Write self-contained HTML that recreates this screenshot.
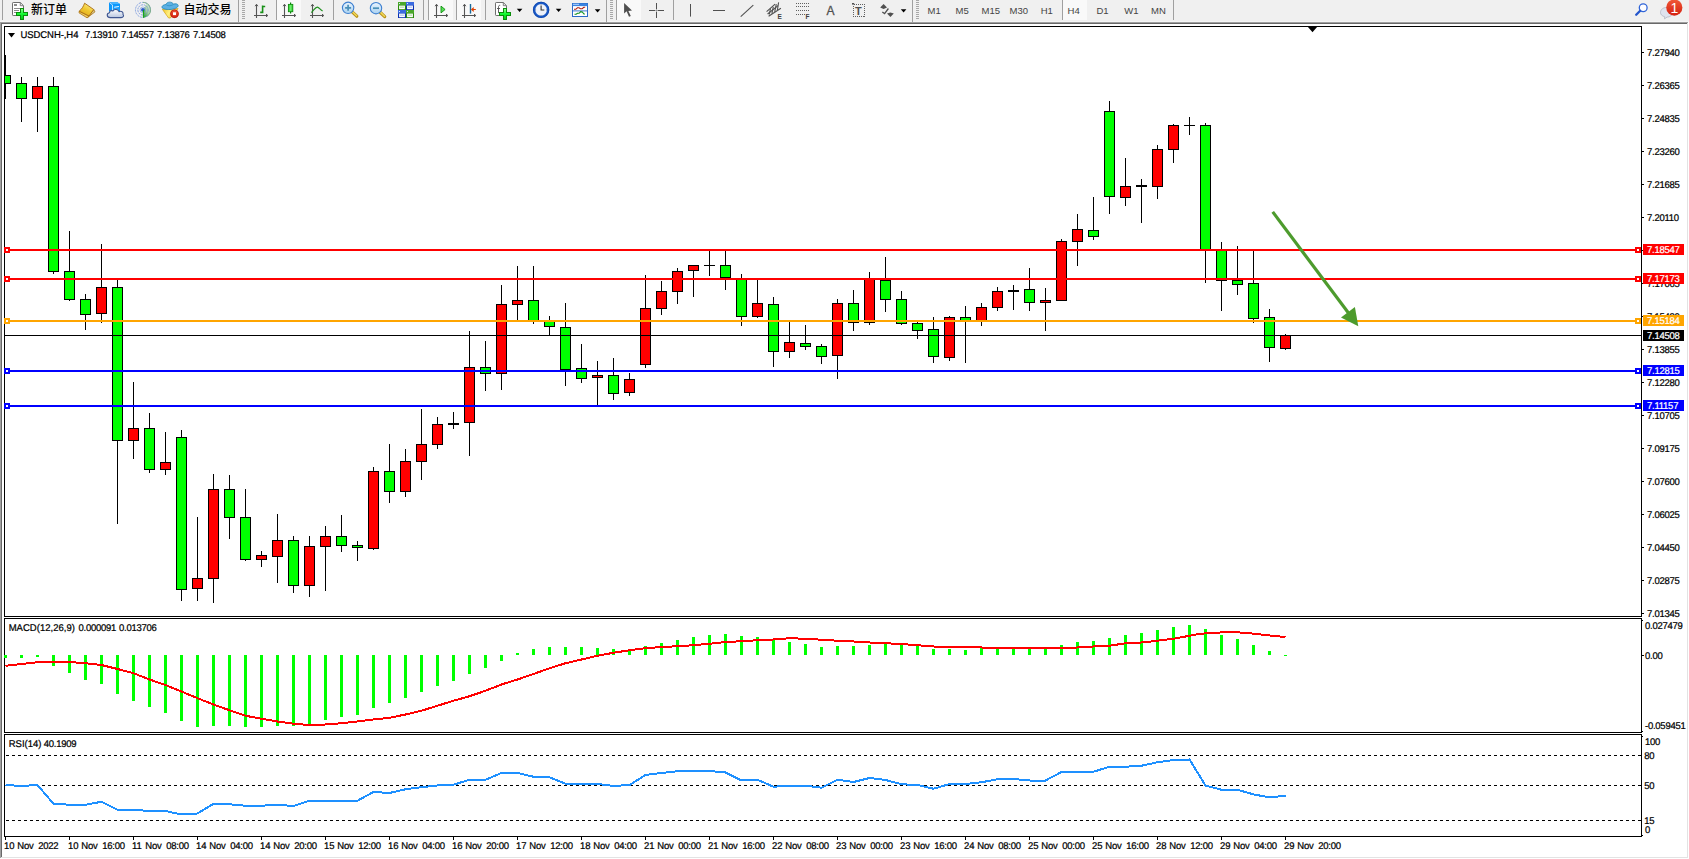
<!DOCTYPE html>
<html lang="zh-CN"><head><meta charset="utf-8"><title>USDCNH-,H4</title>
<style>
html,body{margin:0;padding:0;background:#fff;overflow:hidden}
body{width:1689px;height:859px;position:relative;font-family:"Liberation Sans","Noto Sans CJK SC",sans-serif}
#tb{position:absolute;left:0;top:0;width:1689px;height:22px;background:#f0f0f0}
#tbl1{position:absolute;left:0;top:22px;width:1688px;height:1px;background:#a0a0a0}
#tbl2{position:absolute;left:1px;top:23px;width:1687px;height:1px;background:#696969}
#le1{position:absolute;left:0;top:22px;width:1px;height:836px;background:#a0a0a0}
#le2{position:absolute;left:1px;top:23px;width:1px;height:834px;background:#696969}
#re{position:absolute;left:1687px;top:23px;width:1px;height:835px;background:#e3e3e3}
#be{position:absolute;left:1px;top:857px;width:1687px;height:1px;background:#e3e3e3}
.t{position:absolute;white-space:nowrap}
</style></head><body>
<div id="tb"></div><div style="position:absolute;left:0;top:21px;width:1689px;height:1px;background:#f5f5f5"></div><div id="tbl1"></div><div id="tbl2"></div><div id="le1"></div><div id="le2"></div><div id="re"></div><div id="be"></div>
<svg id="chart" width="1689" height="859" viewBox="0 0 1689 859" style="position:absolute;left:0;top:0">
<g shape-rendering="crispEdges">
<path d="M4 26H1642V617H4Z M5 27V616H1641V27Z" fill="#000" fill-rule="evenodd"/>
<path d="M4 618H1642V733H4Z M5 619V732H1641V619Z" fill="#000" fill-rule="evenodd"/>
<path d="M4 734H1642V837H4Z M5 735V836H1641V735Z" fill="#000" fill-rule="evenodd"/>
<clipPath id="cp"><rect x="5" y="27" width="1636" height="589"/></clipPath><g clip-path="url(#cp)">
<path d="M5 55h1v44h-1zM0 75h11v9h-11zM21 77h1v45h-1zM16 83h11v16h-11zM37 77h1v55h-1zM32 86h11v13h-11zM53 77h1v197h-1zM48 86h11v186h-11zM69 231h1v70h-1zM64 271h11v29h-11zM85 294h1v36h-1zM80 299h11v16h-11zM101 244h1v79h-1zM96 287h11v27h-11zM117 280h1v244h-1zM112 287h11v154h-11zM133 382h1v77h-1zM128 428h11v13h-11zM149 413h1v60h-1zM144 428h11v42h-11zM165 432h1v43h-1zM160 462h11v8h-11zM181 430h1v171h-1zM176 437h11v153h-11zM197 517h1v84h-1zM192 578h11v11h-11zM213 474h1v129h-1zM208 489h11v90h-11zM229 475h1v64h-1zM224 489h11v29h-11zM245 489h1v72h-1zM240 517h11v43h-11zM261 551h1v16h-1zM256 555h11v5h-11zM277 514h1v69h-1zM272 540h11v17h-11zM293 536h1v57h-1zM288 540h11v46h-11zM309 536h1v61h-1zM304 546h11v40h-11zM325 526h1v65h-1zM320 536h11v11h-11zM341 515h1v37h-1zM336 536h11v10h-11zM357 541h1v20h-1zM352 545h11v3h-11zM373 467h1v83h-1zM368 471h11v78h-11zM389 444h1v59h-1zM384 471h11v21h-11zM405 449h1v48h-1zM400 461h11v31h-11zM421 409h1v71h-1zM416 444h11v18h-11zM437 417h1v32h-1zM432 424h11v21h-11zM453 412h1v17h-1zM448 423h11v2h-11zM469 331h1v125h-1zM464 367h11v56h-11zM485 341h1v50h-1zM480 367h11v7h-11zM501 285h1v105h-1zM496 304h11v70h-11zM517 266h1v55h-1zM512 300h11v5h-11zM533 266h1v58h-1zM528 300h11v22h-11zM549 316h1v20h-1zM544 321h11v6h-11zM565 303h1v83h-1zM560 327h11v43h-11zM581 344h1v39h-1zM576 368h11v11h-11zM597 361h1v45h-1zM592 375h11v3h-11zM613 358h1v42h-1zM608 375h11v19h-11zM629 373h1v23h-1zM624 379h11v14h-11zM645 275h1v93h-1zM640 308h11v57h-11zM661 281h1v34h-1zM656 291h11v18h-11zM677 268h1v36h-1zM672 271h11v21h-11zM693 265h1v32h-1zM688 265h11v6h-11zM709 251h1v25h-1zM704 265h11v1h-11zM725 251h1v39h-1zM720 265h11v13h-11zM741 274h1v52h-1zM736 279h11v38h-11zM757 279h1v39h-1zM752 303h11v14h-11zM773 297h1v70h-1zM768 304h11v48h-11zM789 322h1v36h-1zM784 342h11v10h-11zM805 325h1v25h-1zM800 343h11v4h-11zM821 344h1v20h-1zM816 346h11v11h-11zM837 299h1v80h-1zM832 303h11v53h-11zM853 290h1v41h-1zM848 303h11v20h-11zM869 272h1v53h-1zM864 279h11v44h-11zM885 257h1v55h-1zM880 280h11v20h-11zM901 291h1v34h-1zM896 299h11v25h-11zM917 322h1v17h-1zM912 323h11v8h-11zM933 317h1v46h-1zM928 329h11v28h-11zM949 316h1v45h-1zM944 317h11v41h-11zM965 306h1v57h-1zM960 317h11v4h-11zM981 303h1v23h-1zM976 307h11v14h-11zM997 287h1v24h-1zM992 291h11v17h-11zM1013 285h1v25h-1zM1008 290h11v2h-11zM1029 268h1v43h-1zM1024 289h11v14h-11zM1045 288h1v43h-1zM1040 300h11v3h-11zM1061 239h1v62h-1zM1056 241h11v60h-11zM1077 214h1v52h-1zM1072 229h11v13h-11zM1093 197h1v43h-1zM1088 230h11v7h-11zM1109 101h1v113h-1zM1104 111h11v86h-11zM1125 158h1v48h-1zM1120 186h11v12h-11zM1141 179h1v44h-1zM1136 185h11v2h-11zM1157 145h1v54h-1zM1152 149h11v38h-11zM1173 124h1v39h-1zM1168 125h11v25h-11zM1189 117h1v18h-1zM1184 125h11v1h-11zM1205 123h1v160h-1zM1200 125h11v125h-11zM1221 242h1v69h-1zM1216 250h11v31h-11zM1237 246h1v49h-1zM1232 280h11v5h-11zM1253 250h1v73h-1zM1248 283h11v36h-11zM1269 309h1v53h-1zM1264 317h11v31h-11zM1285 334h1v16h-1zM1280 335h11v14h-11z" fill="#000"/>
<path d="M1 76h9v7h-9zM17 84h9v14h-9zM49 87h9v184h-9zM65 272h9v27h-9zM81 300h9v14h-9zM113 288h9v152h-9zM145 429h9v40h-9zM177 438h9v151h-9zM225 490h9v27h-9zM241 518h9v41h-9zM289 541h9v44h-9zM337 537h9v8h-9zM353 546h9v1h-9zM385 472h9v19h-9zM481 368h9v5h-9zM529 301h9v20h-9zM545 322h9v4h-9zM561 328h9v41h-9zM577 369h9v9h-9zM609 376h9v17h-9zM721 266h9v11h-9zM737 280h9v36h-9zM769 305h9v46h-9zM801 344h9v2h-9zM817 347h9v9h-9zM849 304h9v18h-9zM881 281h9v18h-9zM897 300h9v23h-9zM913 324h9v6h-9zM929 330h9v26h-9zM961 318h9v2h-9zM1025 290h9v12h-9zM1089 231h9v5h-9zM1105 112h9v84h-9zM1201 126h9v123h-9zM1217 251h9v29h-9zM1233 281h9v3h-9zM1249 284h9v34h-9zM1265 318h9v29h-9z" fill="#00ff00"/>
<path d="M33 87h9v11h-9zM97 288h9v25h-9zM129 429h9v11h-9zM161 463h9v6h-9zM193 579h9v9h-9zM209 490h9v88h-9zM257 556h9v3h-9zM273 541h9v15h-9zM305 547h9v38h-9zM321 537h9v9h-9zM369 472h9v76h-9zM401 462h9v29h-9zM417 445h9v16h-9zM433 425h9v19h-9zM465 368h9v54h-9zM497 305h9v68h-9zM513 301h9v3h-9zM593 376h9v1h-9zM625 380h9v12h-9zM641 309h9v55h-9zM657 292h9v16h-9zM673 272h9v19h-9zM689 266h9v4h-9zM753 304h9v12h-9zM785 343h9v8h-9zM833 304h9v51h-9zM865 280h9v42h-9zM945 318h9v39h-9zM977 308h9v12h-9zM993 292h9v15h-9zM1041 301h9v1h-9zM1057 242h9v58h-9zM1073 230h9v11h-9zM1121 187h9v10h-9zM1153 150h9v36h-9zM1169 126h9v23h-9zM1281 336h9v12h-9z" fill="#ff0000"/>
</g>
<rect x="5" y="335" width="1636" height="1" fill="#000"/>
<rect x="5" y="249" width="1636" height="2" fill="#ff0000"/>
<rect x="4" y="247" width="6" height="6" fill="#ff0000"/><rect x="6" y="249" width="2" height="2" fill="#fff"/>
<rect x="1635" y="247" width="6" height="6" fill="#ff0000"/><rect x="1637" y="249" width="2" height="2" fill="#fff"/>
<rect x="5" y="278" width="1636" height="2" fill="#ff0000"/>
<rect x="4" y="276" width="6" height="6" fill="#ff0000"/><rect x="6" y="278" width="2" height="2" fill="#fff"/>
<rect x="1635" y="276" width="6" height="6" fill="#ff0000"/><rect x="1637" y="278" width="2" height="2" fill="#fff"/>
<rect x="5" y="320" width="1636" height="2" fill="#ffa500"/>
<rect x="4" y="318" width="6" height="6" fill="#ffa500"/><rect x="6" y="320" width="2" height="2" fill="#fff"/>
<rect x="1635" y="318" width="6" height="6" fill="#ffa500"/><rect x="1637" y="320" width="2" height="2" fill="#fff"/>
<rect x="5" y="370" width="1636" height="2" fill="#0000ff"/>
<rect x="4" y="368" width="6" height="6" fill="#0000ff"/><rect x="6" y="370" width="2" height="2" fill="#fff"/>
<rect x="1635" y="368" width="6" height="6" fill="#0000ff"/><rect x="1637" y="370" width="2" height="2" fill="#fff"/>
<rect x="5" y="405" width="1636" height="2" fill="#0000ff"/>
<rect x="4" y="403" width="6" height="6" fill="#0000ff"/><rect x="6" y="405" width="2" height="2" fill="#fff"/>
<rect x="1635" y="403" width="6" height="6" fill="#0000ff"/><rect x="1637" y="405" width="2" height="2" fill="#fff"/>
<path d="M4 655h3v3h-3zM20 655h3v3h-3zM36 655h3v2h-3zM52 655h3v11h-3zM68 655h3v18h-3zM84 655h3v25h-3zM100 655h3v29h-3zM116 655h3v39h-3zM132 655h3v46h-3zM148 655h3v52h-3zM164 655h3v58h-3zM180 655h3v66h-3zM196 655h3v72h-3zM212 655h3v71h-3zM228 655h3v71h-3zM244 655h3v72h-3zM260 655h3v72h-3zM276 655h3v71h-3zM292 655h3v71h-3zM308 655h3v70h-3zM324 655h3v65h-3zM340 655h3v62h-3zM356 655h3v60h-3zM372 655h3v53h-3zM388 655h3v48h-3zM404 655h3v43h-3zM420 655h3v37h-3zM436 655h3v31h-3zM452 655h3v26h-3zM468 655h3v19h-3zM484 655h3v13h-3zM500 655h3v6h-3zM516 653h3v2h-3zM532 649h3v6h-3zM548 647h3v8h-3zM564 647h3v8h-3zM580 647h3v8h-3zM596 648h3v7h-3zM612 649h3v6h-3zM628 649h3v6h-3zM644 646h3v9h-3zM660 643h3v12h-3zM676 640h3v15h-3zM692 637h3v18h-3zM708 635h3v20h-3zM724 634h3v21h-3zM740 636h3v19h-3zM756 637h3v18h-3zM772 640h3v15h-3zM788 642h3v13h-3zM804 644h3v11h-3zM820 647h3v8h-3zM836 646h3v9h-3zM852 646h3v9h-3zM868 645h3v10h-3zM884 643h3v12h-3zM900 645h3v10h-3zM916 646h3v9h-3zM932 649h3v6h-3zM948 649h3v6h-3zM964 650h3v5h-3zM980 648h3v7h-3zM996 647h3v8h-3zM1012 647h3v8h-3zM1028 647h3v8h-3zM1044 647h3v8h-3zM1060 645h3v10h-3zM1076 642h3v13h-3zM1092 641h3v14h-3zM1108 638h3v17h-3zM1124 635h3v20h-3zM1140 633h3v22h-3zM1156 630h3v25h-3zM1172 627h3v28h-3zM1188 625h3v30h-3zM1204 629h3v26h-3zM1220 635h3v20h-3zM1236 639h3v16h-3zM1252 645h3v10h-3zM1268 651h3v4h-3zM1284 655h3v1h-3z" fill="#00ff00"/>
<path d="M6 755.5H1644" stroke="#000" stroke-width="1" stroke-dasharray="3 3" fill="none"/>
<path d="M6 785.5H1644" stroke="#000" stroke-width="1" stroke-dasharray="3 3" fill="none"/>
<path d="M6 820.5H1644" stroke="#000" stroke-width="1" stroke-dasharray="3 3" fill="none"/>
<rect x="1642" y="52" width="2" height="1" fill="#000"/>
<rect x="1642" y="85" width="2" height="1" fill="#000"/>
<rect x="1642" y="118" width="2" height="1" fill="#000"/>
<rect x="1642" y="151" width="2" height="1" fill="#000"/>
<rect x="1642" y="184" width="2" height="1" fill="#000"/>
<rect x="1642" y="217" width="2" height="1" fill="#000"/>
<rect x="1642" y="250" width="2" height="1" fill="#000"/>
<rect x="1642" y="283" width="2" height="1" fill="#000"/>
<rect x="1642" y="316" width="2" height="1" fill="#000"/>
<rect x="1642" y="349" width="2" height="1" fill="#000"/>
<rect x="1642" y="382" width="2" height="1" fill="#000"/>
<rect x="1642" y="415" width="2" height="1" fill="#000"/>
<rect x="1642" y="448" width="2" height="1" fill="#000"/>
<rect x="1642" y="481" width="2" height="1" fill="#000"/>
<rect x="1642" y="514" width="2" height="1" fill="#000"/>
<rect x="1642" y="547" width="2" height="1" fill="#000"/>
<rect x="1642" y="580" width="2" height="1" fill="#000"/>
<rect x="1642" y="613" width="2" height="1" fill="#000"/>
<rect x="1642" y="620" width="1" height="1" fill="#000"/>
<rect x="1642" y="655" width="2" height="1" fill="#000"/>
<rect x="1642" y="731" width="1" height="1" fill="#000"/>
<rect x="1642" y="736" width="1" height="1" fill="#000"/>
<rect x="1642" y="835" width="1" height="1" fill="#000"/>
<rect x="5" y="837" width="1" height="3" fill="#000"/>
<rect x="69" y="837" width="1" height="3" fill="#000"/>
<rect x="133" y="837" width="1" height="3" fill="#000"/>
<rect x="197" y="837" width="1" height="3" fill="#000"/>
<rect x="261" y="837" width="1" height="3" fill="#000"/>
<rect x="325" y="837" width="1" height="3" fill="#000"/>
<rect x="389" y="837" width="1" height="3" fill="#000"/>
<rect x="453" y="837" width="1" height="3" fill="#000"/>
<rect x="517" y="837" width="1" height="3" fill="#000"/>
<rect x="581" y="837" width="1" height="3" fill="#000"/>
<rect x="645" y="837" width="1" height="3" fill="#000"/>
<rect x="709" y="837" width="1" height="3" fill="#000"/>
<rect x="773" y="837" width="1" height="3" fill="#000"/>
<rect x="837" y="837" width="1" height="3" fill="#000"/>
<rect x="901" y="837" width="1" height="3" fill="#000"/>
<rect x="965" y="837" width="1" height="3" fill="#000"/>
<rect x="1029" y="837" width="1" height="3" fill="#000"/>
<rect x="1093" y="837" width="1" height="3" fill="#000"/>
<rect x="1157" y="837" width="1" height="3" fill="#000"/>
<rect x="1221" y="837" width="1" height="3" fill="#000"/>
<rect x="1285" y="837" width="1" height="3" fill="#000"/>
<path d="M1307.5 26.5h10l-5 5.7z" fill="#000" shape-rendering="auto"/>
</g>
<polyline points="5.5,665.75 21.5,664 37.5,662.25 53.5,662 69.5,662 85.5,663.25 101.5,665 117.5,669 133.5,673.25 149.5,679.5 165.5,685 181.5,691.5 197.5,698.25 213.5,704.5 229.5,710.25 245.5,715.75 261.5,718.75 277.5,721.5 293.5,723.75 309.5,725 325.5,724.5 341.5,723.25 357.5,721.5 373.5,719.5 389.5,717.75 405.5,714.5 421.5,710.75 437.5,705.75 453.5,700.75 469.5,696.25 485.5,690.75 501.5,684.5 517.5,679.5 533.5,674 549.5,668.25 565.5,663.25 581.5,659.5 597.5,655.75 613.5,652.75 629.5,650.25 645.5,648.25 661.5,647 677.5,646.25 693.5,645.25 709.5,643.75 725.5,642 741.5,641.25 757.5,640.25 773.5,639.5 789.5,638.25 805.5,638.75 821.5,639.75 837.5,640.75 853.5,641.5 869.5,642.5 885.5,643.25 901.5,644 917.5,645.25 933.5,646.5 949.5,646.75 965.5,646.75 981.5,647.5 997.5,648 1013.5,648 1029.5,648 1045.5,648 1061.5,648 1077.5,647.5 1093.5,646.5 1109.5,645.75 1125.5,643.25 1141.5,642.5 1157.5,640.75 1173.5,638.75 1189.5,635.75 1197.5,634.2 1205.5,633.3 1221.5,632.45 1229.5,632 1237.5,632.3 1253.5,633.6 1269.5,635.5 1285.5,637" fill="none" stroke="#ff0000" stroke-width="2" stroke-linejoin="round" shape-rendering="crispEdges"/>
<polyline points="5.5,785 21.5,786 37.5,785 53.5,803.75 69.5,804.75 85.5,804.75 101.5,801.75 117.5,809.75 133.5,809.75 149.5,811 165.5,811 181.5,814.5 197.5,813.5 213.5,803.75 229.5,804.25 245.5,805.75 261.5,805.75 277.5,804.75 293.5,806 309.5,800.75 325.5,800.75 341.5,800.75 357.5,800.75 373.5,792 389.5,793 405.5,789.25 421.5,787.25 437.5,785.5 453.5,784.75 469.5,779.75 485.5,779.75 501.5,773 517.5,773 533.5,776.75 549.5,777.25 565.5,783.75 581.5,784 597.5,784 613.5,786 629.5,785 645.5,775 661.5,773 677.5,771.25 693.5,771 709.5,771 725.5,772.5 741.5,780.5 757.5,779.75 773.5,786.75 789.5,785.75 805.5,785.75 821.5,787.75 837.5,779.75 853.5,782 869.5,778 885.5,780 901.5,784.25 917.5,785 933.5,788.75 949.5,784 965.5,784 981.5,782.25 997.5,779.25 1013.5,779 1029.5,780.5 1045.5,780.5 1061.5,772 1077.5,771.75 1093.5,771.75 1109.5,766.75 1125.5,766.75 1141.5,765.75 1157.5,762.25 1173.5,760 1189.5,759.5 1205.5,785.5 1221.5,789.75 1237.5,789.75 1253.5,794.4 1265.5,796.6 1277.5,796.6 1279.5,796 1285.5,796" fill="none" stroke="#1e90ff" stroke-width="2" stroke-linejoin="round" shape-rendering="crispEdges"/>
<g><line x1="1272.7" y1="211.9" x2="1350" y2="315" stroke="#4d9b2d" stroke-width="3.2"/><path d="M1358.3 326.2L1354.9 307L1341 317.5Z" fill="#4d9b2d"/></g>
<g font-family="Liberation Sans, sans-serif" font-size="9.5" letter-spacing="-0.25" stroke-width="0.22" text-rendering="geometricPrecision" fill="#000" stroke="#000" transform="scale(1,1.03)">
<text x="1647" y="54.17">7.27940</text>
<text x="1647" y="86.21">7.26365</text>
<text x="1647" y="118.25">7.24835</text>
<text x="1647" y="150.29">7.23260</text>
<text x="1647" y="182.33">7.21685</text>
<text x="1647" y="214.37">7.20110</text>
<text x="1647" y="246.41">7.18580</text>
<text x="1647" y="278.45">7.17065</text>
<text x="1647" y="310.49">7.15430</text>
<text x="1647" y="342.52">7.13855</text>
<text x="1647" y="374.56">7.12280</text>
<text x="1647" y="406.6">7.10705</text>
<text x="1647" y="438.64">7.09175</text>
<text x="1647" y="470.68">7.07600</text>
<text x="1647" y="502.72">7.06025</text>
<text x="1647" y="534.76">7.04450</text>
<text x="1647" y="566.8">7.02875</text>
<text x="1647" y="598.83">7.01345</text>
<text x="1645" y="610.49">0.027479</text>
<text x="1645" y="639.61">0.00</text>
<text x="1645" y="707.57">-0.059451</text>
<text x="1645" y="723.11">100</text>
<text x="1644.2" y="736.7">80</text>
<text x="1644.2" y="765.83">50</text>
<text x="1644.2" y="799.81">15</text>
<text x="1645" y="808.54">0</text>
<text y="824.08" style="white-space:pre"><tspan x="4.1">10</tspan><tspan> </tspan><tspan x="17.3">Nov</tspan><tspan> </tspan><tspan x="38.2">2022</tspan></text>
<text y="824.08" style="white-space:pre"><tspan x="68.1">10</tspan><tspan> </tspan><tspan x="81.3">Nov</tspan><tspan> </tspan><tspan x="102.2">16:00</tspan></text>
<text y="824.08" style="white-space:pre"><tspan x="132.1">11</tspan><tspan> </tspan><tspan x="145.3">Nov</tspan><tspan> </tspan><tspan x="166.2">08:00</tspan></text>
<text y="824.08" style="white-space:pre"><tspan x="196.1">14</tspan><tspan> </tspan><tspan x="209.3">Nov</tspan><tspan> </tspan><tspan x="230.2">04:00</tspan></text>
<text y="824.08" style="white-space:pre"><tspan x="260.1">14</tspan><tspan> </tspan><tspan x="273.3">Nov</tspan><tspan> </tspan><tspan x="294.2">20:00</tspan></text>
<text y="824.08" style="white-space:pre"><tspan x="324.1">15</tspan><tspan> </tspan><tspan x="337.3">Nov</tspan><tspan> </tspan><tspan x="358.2">12:00</tspan></text>
<text y="824.08" style="white-space:pre"><tspan x="388.1">16</tspan><tspan> </tspan><tspan x="401.3">Nov</tspan><tspan> </tspan><tspan x="422.2">04:00</tspan></text>
<text y="824.08" style="white-space:pre"><tspan x="452.1">16</tspan><tspan> </tspan><tspan x="465.3">Nov</tspan><tspan> </tspan><tspan x="486.2">20:00</tspan></text>
<text y="824.08" style="white-space:pre"><tspan x="516.1">17</tspan><tspan> </tspan><tspan x="529.3">Nov</tspan><tspan> </tspan><tspan x="550.2">12:00</tspan></text>
<text y="824.08" style="white-space:pre"><tspan x="580.1">18</tspan><tspan> </tspan><tspan x="593.3">Nov</tspan><tspan> </tspan><tspan x="614.2">04:00</tspan></text>
<text y="824.08" style="white-space:pre"><tspan x="644.1">21</tspan><tspan> </tspan><tspan x="657.3">Nov</tspan><tspan> </tspan><tspan x="678.2">00:00</tspan></text>
<text y="824.08" style="white-space:pre"><tspan x="708.1">21</tspan><tspan> </tspan><tspan x="721.3">Nov</tspan><tspan> </tspan><tspan x="742.2">16:00</tspan></text>
<text y="824.08" style="white-space:pre"><tspan x="772.1">22</tspan><tspan> </tspan><tspan x="785.3">Nov</tspan><tspan> </tspan><tspan x="806.2">08:00</tspan></text>
<text y="824.08" style="white-space:pre"><tspan x="836.1">23</tspan><tspan> </tspan><tspan x="849.3">Nov</tspan><tspan> </tspan><tspan x="870.2">00:00</tspan></text>
<text y="824.08" style="white-space:pre"><tspan x="900.1">23</tspan><tspan> </tspan><tspan x="913.3">Nov</tspan><tspan> </tspan><tspan x="934.2">16:00</tspan></text>
<text y="824.08" style="white-space:pre"><tspan x="964.1">24</tspan><tspan> </tspan><tspan x="977.3">Nov</tspan><tspan> </tspan><tspan x="998.2">08:00</tspan></text>
<text y="824.08" style="white-space:pre"><tspan x="1028.1">25</tspan><tspan> </tspan><tspan x="1041.3">Nov</tspan><tspan> </tspan><tspan x="1062.2">00:00</tspan></text>
<text y="824.08" style="white-space:pre"><tspan x="1092.1">25</tspan><tspan> </tspan><tspan x="1105.3">Nov</tspan><tspan> </tspan><tspan x="1126.2">16:00</tspan></text>
<text y="824.08" style="white-space:pre"><tspan x="1156.1">28</tspan><tspan> </tspan><tspan x="1169.3">Nov</tspan><tspan> </tspan><tspan x="1190.2">12:00</tspan></text>
<text y="824.08" style="white-space:pre"><tspan x="1220.1">29</tspan><tspan> </tspan><tspan x="1233.3">Nov</tspan><tspan> </tspan><tspan x="1254.2">04:00</tspan></text>
<text y="824.08" style="white-space:pre"><tspan x="1284.1">29</tspan><tspan> </tspan><tspan x="1297.3">Nov</tspan><tspan> </tspan><tspan x="1318.2">20:00</tspan></text>
<text y="36.7" style="white-space:pre"><tspan x="20.4" textLength="57.8" lengthAdjust="spacing">USDCNH-,H4</tspan><tspan> </tspan><tspan x="84.9">7.13910</tspan><tspan> </tspan><tspan x="121.1">7.14557</tspan><tspan> </tspan><tspan x="157">7.13876</tspan><tspan> </tspan><tspan x="192.9">7.14508</tspan></text>
<text y="612.43" style="white-space:pre"><tspan x="8.7" textLength="65.9" lengthAdjust="spacing">MACD(12,26,9)</tspan><tspan> </tspan><tspan x="78.5">0.000091</tspan><tspan> </tspan><tspan x="119">0.013706</tspan></text>
<text y="725.05" style="white-space:pre"><tspan x="8.7" textLength="32.5" lengthAdjust="spacing">RSI(14)</tspan><tspan> </tspan><tspan x="43.7">40.1909</tspan></text>
</g>
<path d="M8 33h7l-3.5 4.5z" fill="#000"/>
<g font-family="Liberation Sans, sans-serif" font-size="9.5" letter-spacing="-0.25" stroke-width="0.22" text-rendering="geometricPrecision">
<rect x="1643" y="244" width="41" height="11" fill="#ff0000" shape-rendering="crispEdges"/><text x="1647" y="245.44" fill="#fff" stroke="#fff" transform="scale(1,1.03)">7.18547</text>
<rect x="1643" y="273" width="41" height="11" fill="#ff0000" shape-rendering="crispEdges"/><text x="1647" y="273.59" fill="#fff" stroke="#fff" transform="scale(1,1.03)">7.17173</text>
<rect x="1643" y="315" width="41" height="11" fill="#ffa500" shape-rendering="crispEdges"/><text x="1647" y="314.37" fill="#fff" stroke="#fff" transform="scale(1,1.03)">7.15184</text>
<rect x="1643" y="330" width="41" height="11" fill="#000000" shape-rendering="crispEdges"/><text x="1647" y="328.93" fill="#fff" stroke="#fff" transform="scale(1,1.03)">7.14508</text>
<rect x="1643" y="365" width="41" height="11" fill="#0000ff" shape-rendering="crispEdges"/><text x="1647" y="362.91" fill="#fff" stroke="#fff" transform="scale(1,1.03)">7.12815</text>
<rect x="1643" y="400" width="41" height="11" fill="#0000ff" shape-rendering="crispEdges"/><text x="1647" y="396.89" fill="#fff" stroke="#fff" transform="scale(1,1.03)">7.11157</text>
</g>
</svg>
<svg id="tbsvg" width="1689" height="24" viewBox="0 0 1689 24" style="position:absolute;left:0;top:0">
<defs>
<linearGradient id="gGold" x1="0.2" y1="1" x2="0.8" y2="0"><stop offset="0" stop-color="#e0a818"/><stop offset="0.5" stop-color="#f0c830"/><stop offset="1" stop-color="#fff090"/></linearGradient>
<linearGradient id="gPlus" x1="0" y1="0" x2="0" y2="1"><stop offset="0" stop-color="#8cff8c"/><stop offset="0.5" stop-color="#10f830"/><stop offset="1" stop-color="#08c818"/></linearGradient>
<linearGradient id="gBlue" x1="0" y1="0" x2="0" y2="1"><stop offset="0" stop-color="#5ab4ff"/><stop offset="1" stop-color="#0a6ae0"/></linearGradient>
<linearGradient id="gCloud" x1="0" y1="0" x2="0" y2="1"><stop offset="0" stop-color="#ffffff"/><stop offset="1" stop-color="#b8c6e0"/></linearGradient>
<linearGradient id="gLens" x1="0" y1="0" x2="0" y2="1"><stop offset="0" stop-color="#eaf5ff"/><stop offset="1" stop-color="#a8d0f0"/></linearGradient>
<linearGradient id="gRed" x1="0" y1="0" x2="0" y2="1"><stop offset="0" stop-color="#f05838"/><stop offset="1" stop-color="#d42010"/></linearGradient>
<linearGradient id="gSig" x1="0.8" y1="0" x2="0.2" y2="1"><stop offset="0" stop-color="#d8ead8"/><stop offset="0.55" stop-color="#a8d4a0"/><stop offset="1" stop-color="#28a428"/></linearGradient><linearGradient id="gFun" x1="0" y1="0" x2="1" y2="0.3"><stop offset="0" stop-color="#f0c020"/><stop offset="0.5" stop-color="#fff080"/><stop offset="1" stop-color="#f0c020"/></linearGradient>
<linearGradient id="gCandle" x1="0" y1="0" x2="1" y2="0"><stop offset="0" stop-color="#20c820"/><stop offset="0.5" stop-color="#70f070"/><stop offset="1" stop-color="#20c820"/></linearGradient>
<g id="axes" fill="none" stroke="#555" stroke-width="1.1"><path d="M2.5 4.5V18M0 15.5H13.5"/><path d="M1.1 6.2L2.5 4.3L3.9 6.2M12 14.1L13.8 15.5L12 16.9" stroke-width="1"/></g>
<g id="dd"><path d="M0 0h5.6l-2.8 3.3z" fill="#000"/></g>
<g id="grip" stroke="#a8a8a8" stroke-width="1"><path d="M0 0.5h3M0 2.5h3M0 4.5h3M0 6.5h3M0 8.5h3M0 10.5h3M0 12.5h3M0 14.5h3M0 16.5h3M0 18.5h3"/></g>
</defs>
<rect x="2" y="0" width="1" height="20" fill="#a0a0a0"/>
<path d="M12.5 3.2q0-0.7 0.7-0.7H20.3L23.5 5.7V14.8q0 0.7-0.7 0.7H13.2q-0.7 0-0.7-0.7Z" fill="#fff" stroke="#6e6e6e" stroke-width="1"/><path d="M20.3 2.6V5.7H23.4" fill="none" stroke="#6e6e6e" stroke-width="0.9"/><rect x="14" y="4" width="3" height="2" fill="#8c8c8c"/><rect x="14" y="8" width="6" height="1" fill="#8c8c8c"/><rect x="14" y="10" width="5" height="1" fill="#8c8c8c"/><rect x="14" y="12" width="3" height="1" fill="#8c8c8c"/>
<path d="M20 8h4v4h4v4h-4v4h-4v-4h-4v-4h4z" fill="#0a8e0a"/><path d="M21 9h2v4h4v2h-4v4h-2v-4h-4v-2h4z" fill="url(#gPlus)"/>
<path d="M93.7 9.5L95 11.8L87.6 17.6L89 15.8Z" fill="#d8c88c" stroke="#a87418" stroke-width="0.8"/><path d="M79.2 11.2L89 16L87 17.8L79 12.8Z" fill="#f0cc60" stroke="#a87010" stroke-width="0.8"/><path d="M84.6 3.2L93.7 9.5L89 16L79.2 11.2C82 9 83.6 6 84.6 3.2Z" fill="url(#gGold)" stroke="#a86c10" stroke-width="0.9"/>
<path d="M109 3.2L110 2.3H117.4L120 3.9V11.5H109Z" fill="#0c98fc"/><path d="M110 2.3H117.4L120 3.9H112.6Z" fill="#48b4ff"/><path d="M109.4 3L110 2.4" stroke="#3060d0" stroke-width="0.6"/><path d="M109.9 2.9L112.5 5V10.6" stroke="#e8f6ff" stroke-width="0.8" fill="none"/><path d="M114.2 7.3L118.9 6.5" stroke="#f0f8ff" stroke-width="1.1"/><path d="M113.4 9.2H119.4" stroke="#60c0ff" stroke-width="0.7"/>
<path d="M110.2 17.6c-3.6 0-4-4.4-0.7-4.9c0.1-1.9 2-2.6 3.4-1.7c1.3-2.3 5.2-2 6.1 0.7c2.3-1.3 4.6 0.4 4 2.6c1.3 1.5 0.2 3.3-1.9 3.3z" fill="url(#gCloud)" stroke="#3f5690" stroke-width="1.1" stroke-linejoin="round"/>
<g fill="none"><path d="M143.2 9.8V17.8A8 8 0 0 0 150.9 9.8A8 8 0 0 0 147 3Z" fill="url(#gSig)"/><circle cx="142.95" cy="9.9" r="7.5" stroke="#7898dc" stroke-width="1" stroke-dasharray="2.2 0.9" opacity="0.85"/><circle cx="142.95" cy="9.9" r="5.1" stroke="#6a8cd8" stroke-width="1" stroke-dasharray="1.8 0.9" opacity="0.85"/><circle cx="142.95" cy="9.9" r="2.9" stroke="#6a8cd8" stroke-width="0.9" opacity="0.6"/><path d="M143 2.4A7.5 7.5 0 0 1 147.5 15.9" stroke="#7fae8c" stroke-width="1" opacity="0.9"/><circle cx="142.9" cy="9.8" r="1.9" fill="#2a5ccc"/><path d="M143.5 10V17.8" stroke="#18a418" stroke-width="1.2"/></g>
<path d="M162.3 9.2L178.1 8.6L170.4 18H168.6Z" fill="url(#gFun)" stroke="#d4a010" stroke-width="0.7"/><path d="M162 7.4c-0.4-1.6 1.6-2.6 4-2.9c0.6-3 6.4-3.2 7.4-0.3c2-0.9 4.6-0.2 4.8 1.2c0.3 2.2-4.4 4-8.2 4.1c-3.8 0.1-7.6-0.5-8-2.1z" fill="#5cb0e4" stroke="#1f86b8" stroke-width="0.8"/><path d="M166.4 5c1.4 1.2 5.4 1 7-0.6" stroke="#1f86b8" stroke-width="0.6" fill="none"/><circle cx="174.5" cy="13.8" r="4.3" fill="url(#gRed)"/><circle cx="174.5" cy="13.8" r="3.9" fill="none" stroke="#b81808" stroke-width="0.7"/><rect x="173" y="12.3" width="3" height="2.8" fill="#fff"/>
<rect x="238" y="0" width="1" height="22" fill="#a0a0a0"/>
<use href="#grip" x="242" y="0"/>
<use href="#axes" x="254" y="0"/><path d="M262.6 5.6V13.3M262.6 6.5h2.6M260.2 12.4h2.4" stroke="#189018" stroke-width="1.6" fill="none"/>
<rect x="276" y="0" width="1" height="20" fill="#a0a0a0"/>
<rect x="277" y="0" width="24" height="20" fill="#f9f9f9"/>
<use href="#axes" x="282" y="0"/><path d="M290.6 2.4V13.6" stroke="#108010" stroke-width="1.2"/><rect x="288.4" y="4.4" width="4.4" height="7.3" fill="url(#gCandle)" stroke="#109010" stroke-width="0.9"/>
<use href="#axes" x="310" y="0"/><path d="M311.4 12.6C314 10 315.5 7 317.3 7.1S320.5 10.2 322.6 10.9" stroke="#209020" stroke-width="1.2" fill="none"/>
<rect x="333" y="0" width="1" height="20" fill="#a0a0a0"/>
<path d="M352.40000000000003 12.1L356.8 16.2" stroke="#b89018" stroke-width="3.2" stroke-linecap="round"/><path d="M352.70000000000005 12.0L356.6 15.8" stroke="#f0d858" stroke-width="1.5" stroke-linecap="round"/>
<circle cx="348.1" cy="7.8" r="5.7" fill="url(#gLens)" stroke="#3f80d0" stroke-width="1.1"/>
<path d="M345.1 7.8h6M348.1 4.8v6" stroke="#4a90b8" stroke-width="1.7"/>
<path d="M380.3 12.5L384.7 16.6" stroke="#b89018" stroke-width="3.2" stroke-linecap="round"/><path d="M380.6 12.399999999999999L384.5 16.2" stroke="#f0d858" stroke-width="1.5" stroke-linecap="round"/>
<circle cx="376" cy="8.2" r="5.7" fill="url(#gLens)" stroke="#3f80d0" stroke-width="1.1"/>
<path d="M373 8.2h6" stroke="#4a90b8" stroke-width="1.7"/>
<rect x="398" y="2" width="8" height="8" fill="#2a8a0a"/><rect x="398" y="2" width="8" height="3.5" fill="#4aa82a"/><rect x="399.1" y="5.6" width="5.8" height="3.6" fill="#fff"/><rect x="400" y="6.6" width="4" height="1.1" fill="#4aa82a" opacity="0.45"/><rect x="399" y="3" width="1" height="1" fill="#d8e8ff"/>
<rect x="406" y="2" width="8" height="8" fill="#0a30b0"/><rect x="406" y="2" width="8" height="3.5" fill="#3a6ae0"/><rect x="407.1" y="5.6" width="5.8" height="3.6" fill="#fff"/><rect x="408" y="6.6" width="4" height="1.1" fill="#3a6ae0" opacity="0.45"/><rect x="407" y="3" width="1" height="1" fill="#d8e8ff"/>
<rect x="398" y="10" width="8" height="8" fill="#0a30b0"/><rect x="398" y="10" width="8" height="3.5" fill="#3a6ae0"/><rect x="399.1" y="13.6" width="5.8" height="3.6" fill="#fff"/><rect x="400" y="14.6" width="4" height="1.1" fill="#3a6ae0" opacity="0.45"/><rect x="399" y="11" width="1" height="1" fill="#d8e8ff"/>
<rect x="406" y="10" width="8" height="8" fill="#2a8a0a"/><rect x="406" y="10" width="8" height="3.5" fill="#4aa82a"/><rect x="407.1" y="13.6" width="5.8" height="3.6" fill="#fff"/><rect x="408" y="14.6" width="4" height="1.1" fill="#4aa82a" opacity="0.45"/><rect x="407" y="11" width="1" height="1" fill="#d8e8ff"/>
<rect x="423" y="0" width="1" height="20" fill="#a0a0a0"/>
<rect x="428" y="0" width="1" height="20" fill="#a0a0a0"/>
<rect x="429" y="0" width="24" height="20" fill="#f9f9f9"/>
<use href="#axes" x="434" y="0"/><path d="M441 6.1L445.1 9.5L441 12.9Z" fill="#58e058" stroke="#109010" stroke-width="0.9"/>
<rect x="456" y="0" width="1" height="20" fill="#a0a0a0"/>
<rect x="457" y="0" width="24" height="20" fill="#f9f9f9"/>
<use href="#axes" x="462" y="0"/><path d="M470.5 4V13.6" stroke="#1a6a9a" stroke-width="1.4"/><path d="M472 9.5h3.8M473.8 7.6L471.8 9.5L473.8 11.4" stroke="#e04000" stroke-width="1.2" fill="none"/>
<rect x="485" y="0" width="1" height="20" fill="#a0a0a0"/>
<path d="M495.5 3.2q0-0.7 0.7-0.7H503.3L506.5 5.7V14.8q0 0.7-0.7 0.7H496.2q-0.7 0-0.7-0.7Z" fill="#fff" stroke="#6e6e6e" stroke-width="1"/><path d="M503.3 2.6V5.7H506.4" fill="none" stroke="#6e6e6e" stroke-width="0.9"/><path d="M500.2 5.3c-1.4 0-1.7 0.6-1.7 1.8v6M497 8.5h3" stroke="#505050" stroke-width="0.9" fill="none"/>
<path d="M503 8h4v4h4v4h-4v4h-4v-4h-4v-4h4z" fill="#0a8e0a"/><path d="M504 9h2v4h4v2h-4v4h-2v-4h-4v-2h4z" fill="url(#gPlus)"/>
<use href="#dd" x="516.8" y="8.8"/>
<circle cx="541.1" cy="9.9" r="7" fill="#eef2fa" stroke="#1a5ac8" stroke-width="2.4"/><circle cx="541.1" cy="9.9" r="7.7" fill="none" stroke="#0a3a98" stroke-width="0.5"/><path d="M541.1 5.6V10h3.2" stroke="#303030" stroke-width="1.1" fill="none"/><path d="M541.1 4v0.8M541.1 15v0.8M535.3 9.9h0.8M546.2 9.9h0.8" stroke="#707070" stroke-width="0.8"/>
<use href="#dd" x="555.8" y="8.8"/>
<rect x="572.5" y="3.5" width="15" height="13" fill="#fff" stroke="#2a6ac8" stroke-width="1"/><rect x="572.5" y="3.5" width="15" height="2.6" fill="#3a84e0"/><rect x="573" y="3.8" width="6" height="0.9" fill="#c8e0ff"/><path d="M573 10.9h14" stroke="#2a6ac8" stroke-width="0.9"/><path d="M574 9.3h1.8l1.6-1.5h1.6l1.4 0.9h1.8l1.6-1.4h1.4" stroke="#b02010" stroke-width="1.1" fill="none"/><path d="M574.5 14.3h1.6l1.4-1h1.6l1.6-1.6l1.6 0.2l1.6 2.1h1" stroke="#109020" stroke-width="1.1" fill="none"/>
<use href="#dd" x="594.8" y="9.2"/>
<rect x="606" y="0" width="1" height="22" fill="#a0a0a0"/>
<use href="#grip" x="610" y="0"/>
<rect x="616" y="0" width="1" height="20" fill="#a0a0a0"/>
<rect x="617" y="0" width="24" height="20" fill="#f9f9f9"/>
<path d="M624.1 3.1V13.4L626.6 11.2L629 16.8L630.8 16L628.4 10.9L632 10.6Z" fill="#505050"/>
<path d="M649 10.5h6.4M657.6 10.5h6.4M656.5 3v6.4M656.5 11.6v6.4" stroke="#505050" stroke-width="1"/><rect x="656" y="10" width="1" height="1" fill="#909090"/>
<rect x="673" y="0" width="1" height="20" fill="#a0a0a0"/>
<path d="M690.5 4V16.6" stroke="#505050" stroke-width="1"/>
<path d="M713 10.5h12" stroke="#505050" stroke-width="1"/>
<path d="M740.7 16.6L753.3 5.2" stroke="#505050" stroke-width="1.1"/>
<g stroke="#505050" stroke-width="1.1" fill="none"><path d="M766.6 11.6L775.1 4.1M767.6 14L778 5.6M768.6 16.3L780.9 8.2"/><path d="M770.5 8.5l-1.2 6M773.3 6.8l-1.4 6.8M776.3 4.2l-1.6 7.6M778.6 2.4l-1.2 7.6"/></g>
<path d="M769.5 2.5L782 2.5" stroke="none"/>
<g stroke="#606060" stroke-width="1" stroke-dasharray="1 1" shape-rendering="crispEdges"><path d="M796 3.5h13.5M796 6.5h13.5M796 10.5h13.5M796 14.5h9.5"/></g>
<path d="M880.2 7.6L883.6 4.1L887 7.6L883.6 8.9Z" fill="#505050"/><path d="M882.3 11.9L884.6 13.6L888.4 8.5" stroke="#505050" stroke-width="1.3" fill="none"/><path d="M887 13.6L890.4 12.6L893.8 13.6L890.4 17Z" fill="#505050"/>
<use href="#dd" x="900.8" y="9.2"/>
<rect x="853.5" y="4.5" width="11" height="12" fill="none" stroke="#606060" stroke-width="1" stroke-dasharray="1 1" shape-rendering="crispEdges"/><rect x="852" y="3" width="2.2" height="1.6" fill="#505050"/>
<rect x="912" y="0" width="1" height="22" fill="#a0a0a0"/>
<use href="#grip" x="916" y="0"/>
<rect x="1062" y="0" width="1" height="20" fill="#a0a0a0"/>
<rect x="1063" y="0" width="24" height="20" fill="#f9f9f9"/>
<rect x="1173" y="0" width="1" height="20" fill="#a0a0a0"/>
<circle cx="1643.2" cy="7.7" r="3.9" fill="#fdfdff" stroke="#2f64d8" stroke-width="1.3"/><path d="M1640.2 10.7L1636.2 14.8" stroke="#2456cc" stroke-width="2.3" stroke-linecap="round"/>
<path d="M1660.5 12.5c0-3 2.6-5 6-5s6 2 6 5s-2.6 4.6-5.4 4.6l-2.6 1.8l0.2-2.2c-2.6-0.6-4.2-2.2-4.2-4.2z" fill="#dfe3ee" stroke="#b4b8c4" stroke-width="0.8"/><circle cx="1674.3" cy="7.6" r="8.1" fill="url(#gRed)"/>
</svg>
<div class="t" style="left:31px;top:3px;font-size:12px;line-height:14px;color:#000;font-weight:500;font-family:'Liberation Sans','Noto Sans CJK SC',sans-serif">新订单</div>
<div class="t" style="left:183.5px;top:3px;font-size:12px;line-height:14px;color:#000;font-weight:500;font-family:'Liberation Sans','Noto Sans CJK SC',sans-serif">自动交易</div>
<div class="t" style="left:927.6px;top:5px;font-size:9.5px;line-height:11.5px;color:#444;">M1</div>
<div class="t" style="left:955.6px;top:5px;font-size:9.5px;line-height:11.5px;color:#444;">M5</div>
<div class="t" style="left:981.6px;top:5px;font-size:9.5px;line-height:11.5px;color:#444;">M15</div>
<div class="t" style="left:1009.6px;top:5px;font-size:9.5px;line-height:11.5px;color:#444;">M30</div>
<div class="t" style="left:1040.7px;top:5px;font-size:9.5px;line-height:11.5px;color:#444;">H1</div>
<div class="t" style="left:1067.6px;top:5px;font-size:9.5px;line-height:11.5px;color:#444;">H4</div>
<div class="t" style="left:1096.5px;top:5px;font-size:9.5px;line-height:11.5px;color:#444;">D1</div>
<div class="t" style="left:1124.3px;top:5px;font-size:9.5px;line-height:11.5px;color:#444;">W1</div>
<div class="t" style="left:1151px;top:5px;font-size:9.5px;line-height:11.5px;color:#444;">MN</div>
<div class="t" style="left:826.5px;top:3.8px;font-size:12px;line-height:14px;color:#505050;-webkit-text-stroke:0.3px #505050">A</div>
<div class="t" style="left:855px;top:4.5px;font-size:11px;line-height:13px;color:#505050;font-weight:bold">T</div>
<div class="t" style="left:777.6px;top:12.5px;font-size:6.5px;line-height:8.5px;color:#404040;font-weight:bold">E</div>
<div class="t" style="left:805.6px;top:12.5px;font-size:6.5px;line-height:8.5px;color:#404040;font-weight:bold">F</div>
<div class="t" style="left:1670.6px;top:-0.5px;font-size:14px;line-height:16px;color:#fff;">1</div>
</body></html>
